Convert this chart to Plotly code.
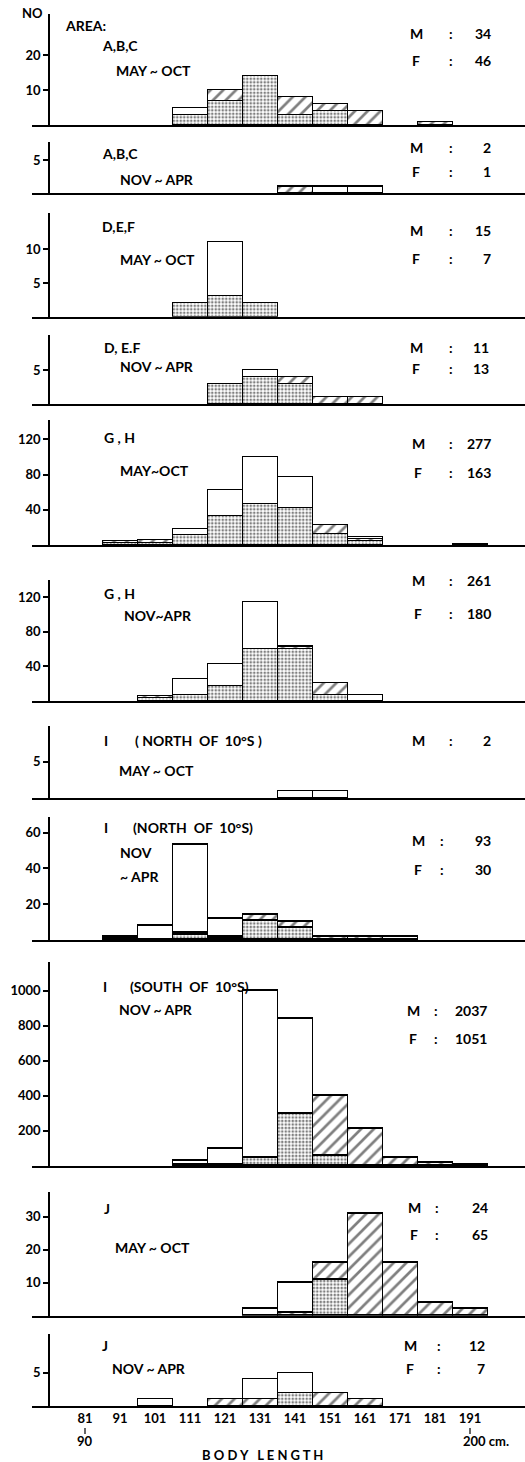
import plotly.graph_objects as go

W, H = 525, 1462
FONT = "Lato"

# Body-length classes (cm): 81-90, 91-100, ..., 191-200
bin_labels = ["81", "91", "101", "111", "121", "131", "141", "151", "161", "171", "181", "191"]
bin_centers = [85.5 + 10 * k for k in range(12)]

# Counts per class: dotted (bottom), hatched (middle), open (top) layers
abc_mayoct_dot = [0, 0, 0, 3, 7, 14, 3, 4, 0, 0, 0, 0]
abc_mayoct_hat = [0, 0, 0, 0, 3, 0, 5, 2, 4, 0, 1, 0]
abc_mayoct_opn = [0, 0, 0, 2, 0, 0, 0, 0, 0, 0, 0, 0]

abc_novapr_dot = [0, 0, 0, 0, 0, 0, 0, 0, 0, 0, 0, 0]
abc_novapr_hat = [0, 0, 0, 0, 0, 0, 1, 0, 0, 0, 0, 0]
abc_novapr_opn = [0, 0, 0, 0, 0, 0, 0, 1, 1, 0, 0, 0]

def_mayoct_dot = [0, 0, 0, 2, 3, 2, 0, 0, 0, 0, 0, 0]
def_mayoct_hat = [0, 0, 0, 0, 0, 0, 0, 0, 0, 0, 0, 0]
def_mayoct_opn = [0, 0, 0, 0, 8, 0, 0, 0, 0, 0, 0, 0]

def_novapr_dot = [0, 0, 0, 0, 3, 4, 3, 0, 0, 0, 0, 0]
def_novapr_hat = [0, 0, 0, 0, 0, 0, 1, 1, 1, 0, 0, 0]
def_novapr_opn = [0, 0, 0, 0, 0, 1, 0, 0, 0, 0, 0, 0]

gh_mayoct_dot = [0, 2, 2, 11, 33, 47, 42, 13, 5, 0, 0, 0]
gh_mayoct_hat = [0, 2, 4, 0, 0, 0, 0, 10, 2, 0, 0, 1]
gh_mayoct_opn = [0, 0, 0, 7, 29, 53, 35, 0, 2, 0, 0, 0]

gh_novapr_dot = [0, 0, 3, 7, 17, 60, 60, 7, 0, 0, 0, 0]
gh_novapr_hat = [0, 0, 3, 0, 0, 0, 2, 14, 0, 0, 0, 0]
gh_novapr_opn = [0, 0, 0, 18, 26, 54, 2, 0, 7, 0, 0, 0]

in_mayoct_dot = [0, 0, 0, 0, 0, 0, 0, 0, 0, 0, 0, 0]
in_mayoct_hat = [0, 0, 0, 0, 0, 0, 0, 0, 0, 0, 0, 0]
in_mayoct_opn = [0, 0, 0, 0, 0, 0, 1, 1, 0, 0, 0, 0]

in_novapr_dot = [0, 1, 0, 3, 1, 11, 7, 0, 0, 0, 0, 0]
in_novapr_hat = [0, 1, 0, 1, 1, 3, 3, 2, 2, 0, 0, 0]
in_novapr_opn = [0, 0, 8, 49, 10, 0, 0, 0, 0, 2, 0, 0]

is_novapr_dot = [0, 0, 0, 5, 5, 50, 300, 60, 0, 0, 0, 0]
is_novapr_hat = [0, 0, 0, 0, 0, 0, 0, 340, 210, 50, 20, 10]
is_novapr_opn = [0, 0, 0, 25, 95, 950, 540, 0, 0, 0, 0, 0]

j_mayoct_dot = [0, 0, 0, 0, 0, 0, 0, 11, 0, 0, 0, 0]
j_mayoct_hat = [0, 0, 0, 0, 0, 0, 1, 5, 31, 16, 4, 2]
j_mayoct_opn = [0, 0, 0, 0, 0, 2, 9, 0, 0, 0, 0, 0]

j_novapr_dot = [0, 0, 0, 0, 0, 0, 2, 0, 0, 0, 0, 0]
j_novapr_hat = [0, 0, 0, 0, 1, 1, 0, 2, 1, 0, 0, 0]
j_novapr_opn = [0, 0, 1, 0, 0, 3, 3, 0, 0, 0, 0, 0]

# Sex totals shown at right of each panel
m_totals = ["34", "2", "15", "11", "277", "261", "2", "93", "2037", "24", "12"]
f_totals = ["46", "1", "7", "13", "163", "180", None, "30", "1051", "65", "7"]

# Y tick values per panel
yticks = [[10, 20], [5], [5, 10], [5], [40, 80, 120], [40, 80, 120], [5],
          [20, 40, 60], [200, 400, 600, 800, 1000], [10, 20, 30], [5]]

series = [
    (abc_mayoct_dot, abc_mayoct_hat, abc_mayoct_opn),
    (abc_novapr_dot, abc_novapr_hat, abc_novapr_opn),
    (def_mayoct_dot, def_mayoct_hat, def_mayoct_opn),
    (def_novapr_dot, def_novapr_hat, def_novapr_opn),
    (gh_mayoct_dot, gh_mayoct_hat, gh_mayoct_opn),
    (gh_novapr_dot, gh_novapr_hat, gh_novapr_opn),
    (in_mayoct_dot, in_mayoct_hat, in_mayoct_opn),
    (in_novapr_dot, in_novapr_hat, in_novapr_opn),
    (is_novapr_dot, is_novapr_hat, is_novapr_opn),
    (j_mayoct_dot, j_mayoct_hat, j_mayoct_opn),
    (j_novapr_dot, j_novapr_hat, j_novapr_opn),
]

# Panel geometry in pixels: baseline y, axis top y, pixels per count
geom = [
    (125.0, 14.0, 3.5),
    (193.3, 141.7, 6.67),
    (316.7, 213.0, 6.75),
    (404.3, 335.0, 6.87),
    (545.0, 420.0, 0.88),
    (701.0, 580.0, 0.867),
    (798.3, 726.0, 7.33),
    (940.0, 816.7, 1.79),
    (1166.0, 961.7, 0.1755),
    (1315.7, 1191.7, 3.3),
    (1406.0, 1334.0, 6.67),
]

# x mapping: pixel = 85 + 3.5 * (cm - 85.5)
X_LEFT_PX, Y_AXIS_PX = 32, 49
x_lo = 85.5 + (X_LEFT_PX - 85) / 3.5
x_hi = 85.5 + (W - 85) / 3.5

LINE = dict(color="black", width=1.4)
styles = [
    dict(color="white", line=LINE,
         pattern=dict(shape=".", fgcolor="black", bgcolor="white", size=3.5, solidity=0.45, fillmode="overlay")),
    dict(color="white", line=LINE,
         pattern=dict(shape="/", fgcolor="black", bgcolor="white", size=9, solidity=0.3, fillmode="overlay")),
    dict(color="white", line=LINE),
]

def nz(vals):
    return [v if v else None for v in vals]

TICKFONT = dict(family=FONT, size=13, color="black", weight="bold")

fig = go.Figure()
layout = dict(
    width=W, height=H, autosize=False,
    margin=dict(l=0, r=0, t=0, b=0),
    paper_bgcolor="white", plot_bgcolor="white",
    barmode="stack", bargap=0, showlegend=False,
    font=dict(family=FONT, color="black", size=13),
)

for i, (layers, (base, top, ppu)) in enumerate(zip(series, geom), start=1):
    xa = "x" if i == 1 else f"x{i}"
    ya = "y" if i == 1 else f"y{i}"
    for vals, st in zip(layers, styles):
        fig.add_trace(go.Bar(x=bin_centers, y=nz(vals), width=10, marker=st,
                             xaxis=xa, yaxis=ya, hoverinfo="skip"))
    layout[f"xaxis{i}"] = dict(
        domain=[X_LEFT_PX / W, 1], range=[x_lo, x_hi], anchor=ya,
        showline=True, linecolor="black", linewidth=1.6,
        showgrid=False, zeroline=False, ticks="",
        showticklabels=(i == 11),
        tickvals=bin_centers, ticktext=bin_labels,
        tickfont=TICKFONT,
    )
    layout[f"yaxis{i}"] = dict(
        domain=[1 - base / H, 1 - top / H], range=[0, (base - top) / ppu],
        anchor="free", position=Y_AXIS_PX / W,
        showline=True, linecolor="black", linewidth=1.6,
        showgrid=False, zeroline=False,
        ticks="outside", ticklen=5, tickwidth=1.5, tickcolor="black",
        tickvals=yticks[i - 1],
        tickfont=TICKFONT,
    )

anns = []

def txt(s, xpx, ypx, anchor="left", size=14):
    anns.append(dict(text=s, x=xpx / W, y=1 - ypx / H, xref="paper", yref="paper",
                     xanchor=anchor, yanchor="middle", showarrow=False,
                     font=dict(family=FONT, size=size, color="black", weight="bold")))

# Panel titles
txt("NO", 45, 13, "right", 13)
txt("AREA:", 63, 26)
txt("A,B,C", 100, 45); txt("MAY ~ OCT", 114, 70)
txt("A,B,C", 100, 154); txt("NOV ~ APR", 118, 179)
txt("D,E,F", 100, 227); txt("MAY ~ OCT", 118, 260)
txt("D, E.F", 102, 347); txt("NOV ~ APR", 118, 367)
txt("G , H", 102, 437); txt("MAY~OCT", 118, 470)
txt("G , H", 102, 594); txt("NOV~APR", 122, 616)
txt("I", 102, 740); txt("( NORTH  OF  10°S )", 133, 740); txt("MAY ~ OCT", 117, 770)
txt("I", 102, 827); txt("(NORTH  OF  10°S)", 131, 827); txt("NOV", 118, 852); txt("~ APR", 118, 876)
txt("I", 101, 986); txt("(SOUTH  OF  10°S)", 128, 986); txt("NOV ~ APR", 117, 1009)
txt("J", 102, 1208); txt("MAY ~ OCT", 113, 1247)
txt("J", 100, 1345); txt("NOV ~ APR", 110, 1368)

# Sex totals: (M y, F y, M x, colon x, value right x)
mf_pos = [
    (33, 60, 408, 451, 493),
    (148, 171, 408, 451, 493),
    (230, 258, 408, 451, 493),
    (347, 368, 408, 451, 491),
    (443, 473, 410, 451, 493),
    (580, 613, 410, 451, 493),
    (740, None, 410, 451, 493),
    (841, 869, 410, 442, 493),
    (1010, 1038, 405, 436, 489),
    (1207, 1234, 406, 437, 490),
    (1345, 1368, 402, 439, 487),
]
for (my, fy, mx, cx, vx), mt, ft in zip(mf_pos, m_totals, f_totals):
    txt("M", mx, my); txt(":", cx, my, "center"); txt(mt, vx, my, "right")
    if ft is not None:
        txt("F", mx + 2, fy); txt(":", cx, fy, "center"); txt(ft, vx, fy, "right")

# Upper bounds of the first and last classes, under their tick labels
txt("90", 85, 1441, "center", 13)
txt("200 cm.", 461, 1441, "left", 13)
txt("B O D Y   L E N G T H", 262, 1455, "center", 13)

shapes = [
    dict(type="line", xref="paper", yref="paper", x0=85 / W, x1=85 / W,
         y0=1 - 1428 / H, y1=1 - 1434 / H, line=dict(color="black", width=1.2)),
    dict(type="line", xref="paper", yref="paper", x0=470 / W, x1=470 / W,
         y0=1 - 1428 / H, y1=1 - 1434 / H, line=dict(color="black", width=1.2)),
]

layout["annotations"] = anns
layout["shapes"] = shapes
fig.update_layout(**layout)
fig.write_html("out.html")
